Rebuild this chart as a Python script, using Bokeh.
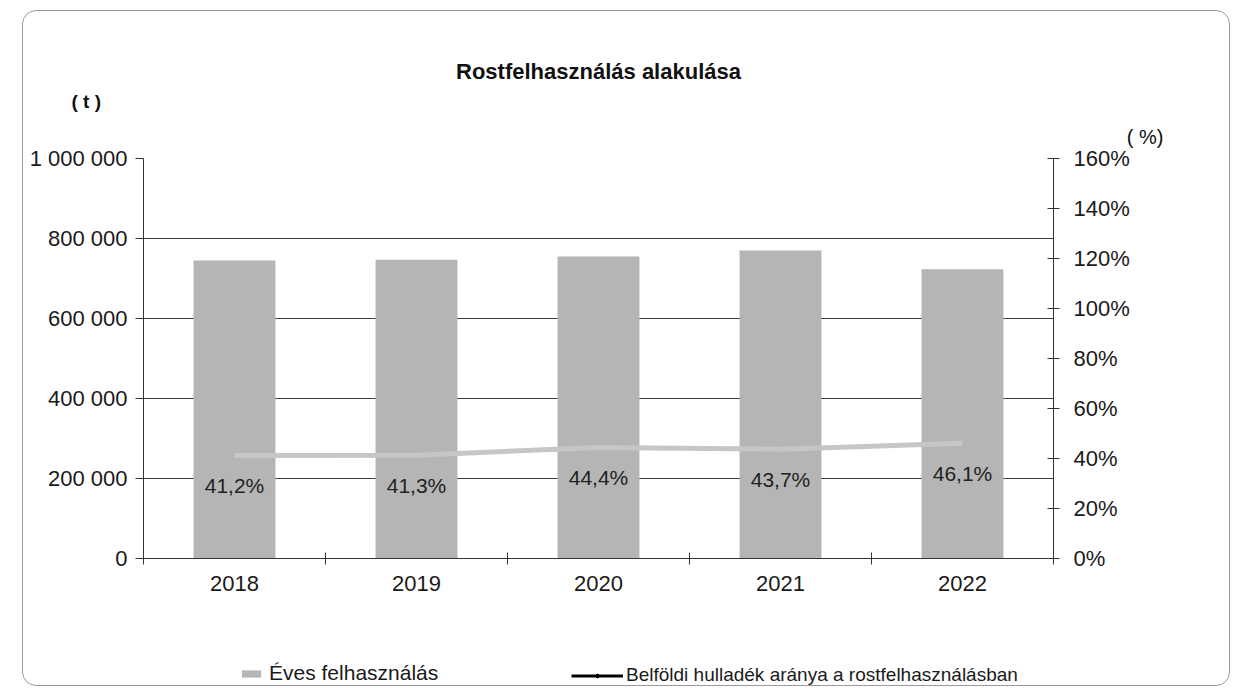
from bokeh.plotting import figure
from bokeh.layouts import column
from bokeh.models import (Range1d, LinearAxis, FixedTicker, CustomJSTickFormatter,
                          PrintfTickFormatter, Title, Legend, LegendItem)
from bokeh.core.properties import value
from bokeh.embed import file_html
from bokeh.resources import INLINE

years = ["2018", "2019", "2020", "2021", "2022"]
usage_t = [745000, 747000, 755000, 770000, 723000]
domestic_pct = [41.2, 41.3, 44.4, 43.7, 46.1]
left_ticks = [0, 200000, 400000, 600000, 800000, 1000000]
right_ticks = [0, 20, 40, 60, 80, 100, 120, 140, 160]

FONT = "Liberation Sans"
xs = [i + 0.5 for i in range(len(years))]
pct_labels = [f"{v:.1f}".replace(".", ",") + "%" for v in domestic_pct]
BAR_COLOR = "#b5b5b5"

p = figure(width=1206, height=638, x_range=Range1d(0, len(years)),
           y_range=Range1d(0, 1000000), output_backend="svg", toolbar_location=None,
           min_border_left=120, min_border_right=176, min_border_top=147,
           min_border_bottom=91)
p.outline_line_color = None
p.background_fill_color = "white"
p.border_fill_alpha = 0
p.title.visible = False

# grid
p.xgrid.visible = False
p.ygrid.ticker = FixedTicker(ticks=left_ticks)
p.ygrid.grid_line_color = "#3a3a3a"
p.ygrid.grid_line_width = 1

# left axis
ya = p.yaxis[0]
ya.ticker = FixedTicker(ticks=left_ticks)
ya.formatter = CustomJSTickFormatter(
    code="return tick.toFixed(0).replace(/\\B(?=(\\d{3})+(?!\\d))/g, ' ');")
ya.major_tick_in = 0
ya.major_tick_out = 8
ya.minor_tick_line_color = None
ya.axis_line_color = "#333333"
ya.major_tick_line_color = "#333333"
ya.major_label_text_font = FONT
ya.major_label_text_font_size = "22px"
ya.major_label_text_color = "#1a1a1a"
ya.major_label_standoff = 8

# right axis
p.extra_y_ranges = {"pct": Range1d(0, 160)}
ra = LinearAxis(y_range_name="pct", ticker=FixedTicker(ticks=right_ticks),
                formatter=PrintfTickFormatter(format="%d%%"))
ra.major_tick_in = 6
ra.major_tick_out = 6
ra.minor_tick_line_color = None
ra.axis_line_color = "#333333"
ra.major_tick_line_color = "#333333"
ra.major_label_text_font = FONT
ra.major_label_text_font_size = "22px"
ra.major_label_text_color = "#1a1a1a"
ra.major_label_standoff = 14
p.add_layout(ra, "right")

# x axis
xa = p.xaxis[0]
xa.ticker = FixedTicker(ticks=xs, minor_ticks=list(range(len(years) + 1)))
xa.formatter = CustomJSTickFormatter(args=dict(labels=years),
                                     code="return labels[Math.floor(tick)];")
xa.major_tick_line_color = None
xa.major_tick_in = 0
xa.major_tick_out = 0
xa.minor_tick_in = 6
xa.minor_tick_out = 6
xa.minor_tick_line_color = "#333333"
xa.axis_line_color = "#333333"
xa.major_label_text_font = FONT
xa.major_label_text_font_size = "22px"
xa.major_label_text_color = "#1a1a1a"
xa.major_label_standoff = 11

# bars
p.vbar(x=xs, top=usage_t, width=0.45, fill_color=BAR_COLOR, line_color=None)

# line
p.line(xs, domestic_pct, y_range_name="pct", line_color="#c6c6c6", line_width=5)

# data labels
p.text(xs, domestic_pct, text=pct_labels, y_range_name="pct", text_align="center",
       text_baseline="middle", y_offset=30, text_font=value(FONT),
       text_font_size="21px", text_color="#222222")

# titles above the plot area
t_pct = Title(text="( %)", align="right", offset=-110, standoff=22,
              text_font=FONT, text_font_size="20px", text_font_style="normal",
              text_color="#111111")
t_t = Title(text="( t )", align="left", offset=-72, standoff=2,
            text_font=FONT, text_font_size="19px", text_font_style="bold",
            text_color="#111111")
t_main = Title(text="Rostfelhasználás alakulása", align="center", offset=-20,
               standoff=8, text_font=FONT, text_font_size="22px",
               text_font_style="bold", text_color="#111111")
p.add_layout(t_pct, "above")
p.add_layout(t_t, "above")
p.add_layout(t_main, "above")

# legend strip below the chart
p2 = figure(width=1206, height=36, x_range=Range1d(0, len(years)),
            y_range=Range1d(0, 1000000), x_axis_type=None, y_axis_type=None,
            output_backend="svg", toolbar_location=None, min_border=0)
p2.extra_y_ranges = {"pct": Range1d(0, 160)}
p2.outline_line_color = None
p2.grid.visible = False
p2.border_fill_alpha = 0
p2.background_fill_alpha = 0
p2.title.visible = False
lg_bar = p2.vbar(x=xs, top=usage_t, width=0.45, fill_color=BAR_COLOR,
                 line_color=None, visible=False)
lg_line = p2.line(xs, domestic_pct, y_range_name="pct", line_color="black",
                  line_width=3, visible=False)
lg_dot = p2.scatter(xs, domestic_pct, y_range_name="pct", marker="circle", size=9,
                    color="black", visible=False)

common = dict(orientation="horizontal", label_text_font=FONT,
              label_text_color="#1a1a1a", border_line_color=None,
              background_fill_alpha=0, padding=0, margin=0, inactive_fill_alpha=0)
leg1 = Legend(items=[LegendItem(label="Éves felhasználás", renderers=[lg_bar])],
              location=(96, 0), glyph_width=24, glyph_height=9, label_standoff=6,
              label_text_font_size="21px", **common)
leg2 = Legend(items=[LegendItem(label="Belföldi hulladék aránya a rostfelhasználásban",
                                renderers=[lg_line, lg_dot])],
              location=(428, -1), glyph_width=52, glyph_height=9, label_standoff=3,
              label_text_font_size="19px", **common)
p2.add_layout(leg1, "center")
p2.add_layout(leg2, "center")

layout = column(p, p2, margin=(10, 0, 0, 22), spacing=0,
                styles={"border": "1px solid #9a9a9a", "border-radius": "14px",
                        "background": "white"})

open("out.html", "w").write(file_html(layout, INLINE))
